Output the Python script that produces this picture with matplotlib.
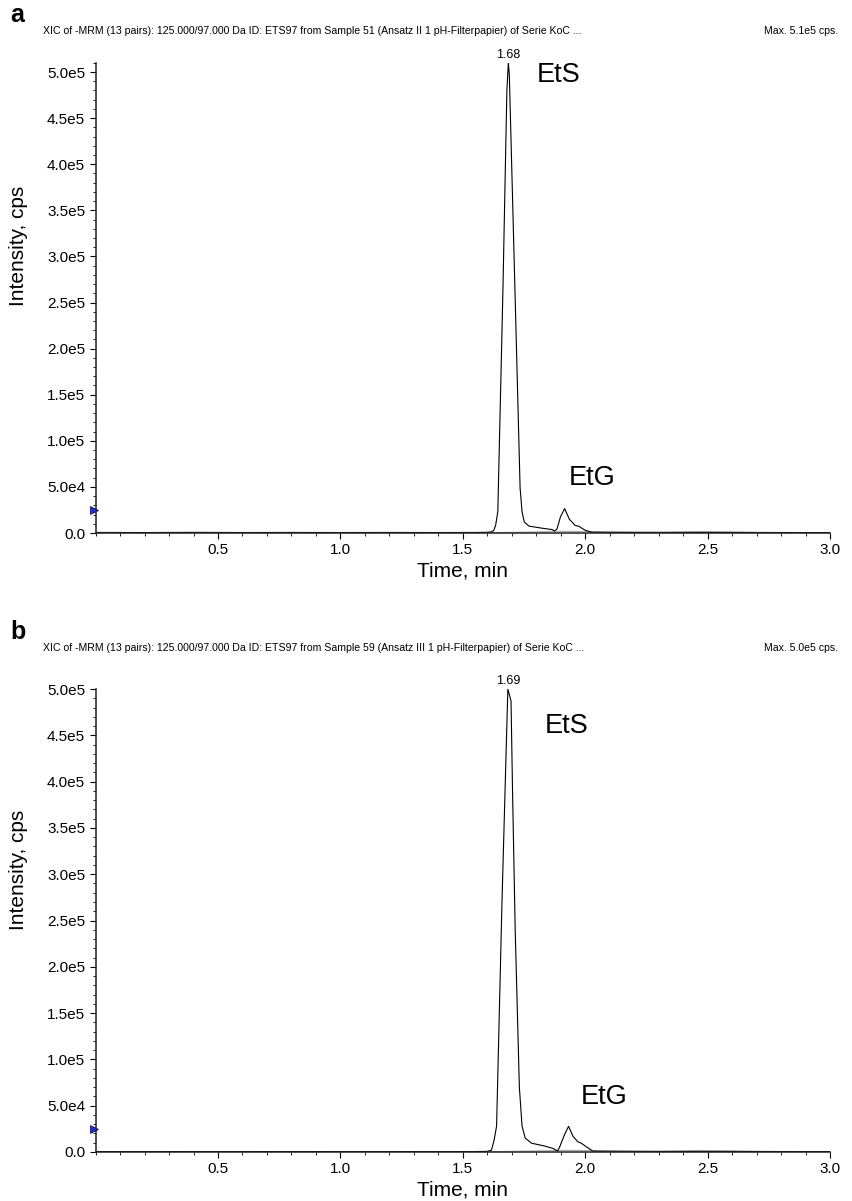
import matplotlib
matplotlib.use("Agg")
import matplotlib.pyplot as plt
from matplotlib.ticker import MultipleLocator, FixedLocator
import numpy as np

plt.rcParams['font.family'] = ['Liberation Sans', 'DejaVu Sans']

# chromatogram a (Sample 51)
time_a = [0.0, 0.2, 0.4, 0.6, 0.8, 1.0, 1.2, 1.4, 1.55, 1.60, 1.615, 1.626, 1.634,
          1.643, 1.664, 1.680, 1.686, 1.690, 1.712, 1.734, 1.742, 1.751, 1.770,
          1.824, 1.865, 1.875, 1.885, 1.899, 1.916, 1.935, 1.959, 1.976, 1.986,
          2.000, 2.027, 2.2, 2.4, 2.6, 2.8, 3.0]
int_a = [600, 500, 700, 500, 600, 500, 600, 500, 600, 800, 1200, 2600, 8200,
         23000, 265000, 480000, 510000, 497000, 274000, 49000, 23000, 12000, 7500,
         5200, 3700, 2200, 4500, 17600, 26500, 15000, 8200, 7100, 5200,
         3000, 900, 700, 600, 600, 500, 500]

# chromatogram b (Sample 59)
time_b = [0.0, 0.2, 0.4, 0.6, 0.8, 1.0, 1.2, 1.4, 1.55, 1.60, 1.617, 1.628, 1.638,
          1.660, 1.684, 1.697, 1.703, 1.714, 1.731, 1.742, 1.755, 1.781, 1.835,
          1.869, 1.887, 1.896, 1.916, 1.932, 1.950, 1.970, 1.984, 2.004, 2.031,
          2.2, 2.4, 2.6, 2.8, 3.0]
int_b = [500, 400, 500, 500, 400, 500, 500, 400, 500, 700, 2000, 13000, 28000,
         270000, 500000, 487000, 392000, 240000, 70000, 28000, 15000, 9500, 6400,
         3800, 1000, 5700, 19000, 27700, 17000, 11000, 9500, 5700, 1000,
         700, 600, 600, 500, 500]

# faint second trace near the baseline
time_g = [0.0, 1.6, 1.8, 1.9, 2.0, 2.1, 2.3, 2.45, 2.55, 2.7, 3.0]
int_g = [300, 300, 1200, 1800, 1600, 900, 700, 1600, 1400, 600, 400]

panels = [
    dict(letter='a', sample='51 (Ansatz II 1 pH-Filterpapier)', maxlab='Max. 5.1e5 cps.',
         t=time_a, y=int_a, ymax=5.1e5, apex=(1.686, 5.1e5), apexlab='1.68',
         ets=(1.89, 4.97e5), etg=(2.03, 6.0e4), rect=[0.1122, 0.5562, 0.862, 0.3915],
         ly=1 - 15 / 1201, hy=1 - 31 / 1201),
    dict(letter='b', sample='59 (Ansatz III 1 pH-Filterpapier)', maxlab='Max. 5.0e5 cps.',
         t=time_b, y=int_b, ymax=5.0e5, apex=(1.686, 5.0e5), apexlab='1.69',
         ets=(1.926, 4.6e5), etg=(2.076, 5.9e4), rect=[0.1122, 0.0408, 0.862, 0.3855],
         ly=1 - 632 / 1201, hy=1 - 648 / 1201),
]

fig = plt.figure(figsize=(8.52, 12.01), dpi=100)

for p in panels:
    ax = fig.add_axes(p['rect'])
    ax.plot(time_g, int_g, color='#aaaaaa', lw=0.8)
    ax.plot(p['t'], p['y'], color='black', lw=0.8)
    ax.set_xlim(0, 3.0)
    ax.set_ylim(0, p['ymax'])
    for s in ['top', 'right']:
        ax.spines[s].set_visible(False)
    for s in ['left', 'bottom']:
        ax.spines[s].set_linewidth(1.1)
        ax.spines[s].set_color('#222222')
    ax.xaxis.set_major_locator(FixedLocator([0.5, 1.0, 1.5, 2.0, 2.5, 3.0]))
    ax.xaxis.set_minor_locator(MultipleLocator(0.1))
    ax.yaxis.set_major_locator(FixedLocator(np.arange(0, 5.01e5, 5e4)))
    ax.yaxis.set_minor_locator(MultipleLocator(1e4))
    ax.set_yticklabels(['0.0', '5.0e4', '1.0e5', '1.5e5', '2.0e5', '2.5e5', '3.0e5',
                        '3.5e5', '4.0e5', '4.5e5', '5.0e5'])
    ax.set_xticklabels(['0.5', '1.0', '1.5', '2.0', '2.5', '3.0'])
    ax.tick_params(which='major', length=4, width=0.8, labelsize=11, direction='out')
    ax.tick_params(which='minor', length=2, width=0.6, direction='out')
    ax.set_xlabel('Time, min', fontsize=15, labelpad=3)
    ax.set_ylabel('Intensity, cps', fontsize=15)
    ax.yaxis.set_label_coords(-0.092, 0.61)

    ax.text(p['apex'][0], p['apex'][1] * 1.004, p['apexlab'], ha='center', va='bottom',
            fontsize=9, clip_on=False)
    ax.text(p['ets'][0], p['ets'][1], 'EtS', ha='center', va='center', fontsize=19.5)
    ax.text(p['etg'][0], p['etg'][1], 'EtG', ha='center', va='center', fontsize=19.5)
    ax.plot([-0.006], [2.5e4], marker='>', markersize=6, color='#1a2fd0',
            markeredgecolor='#000055', markeredgewidth=0.5, clip_on=False, zorder=5)

    fig.text(10 / 852, p['ly'], p['letter'], fontsize=18, fontweight='bold',
             ha='left', va='center')
    fig.text(43 / 852, p['hy'],
             'XIC of -MRM (13 pairs): 125.000/97.000 Da ID: ETS97 from Sample '
             + p['sample'] + ' of Serie KoC ...',
             fontsize=7.6, ha='left', va='center')
    fig.text(838 / 852, p['hy'], p['maxlab'], fontsize=7.6, ha='right', va='center')

fig.savefig('out.png', dpi=100)
